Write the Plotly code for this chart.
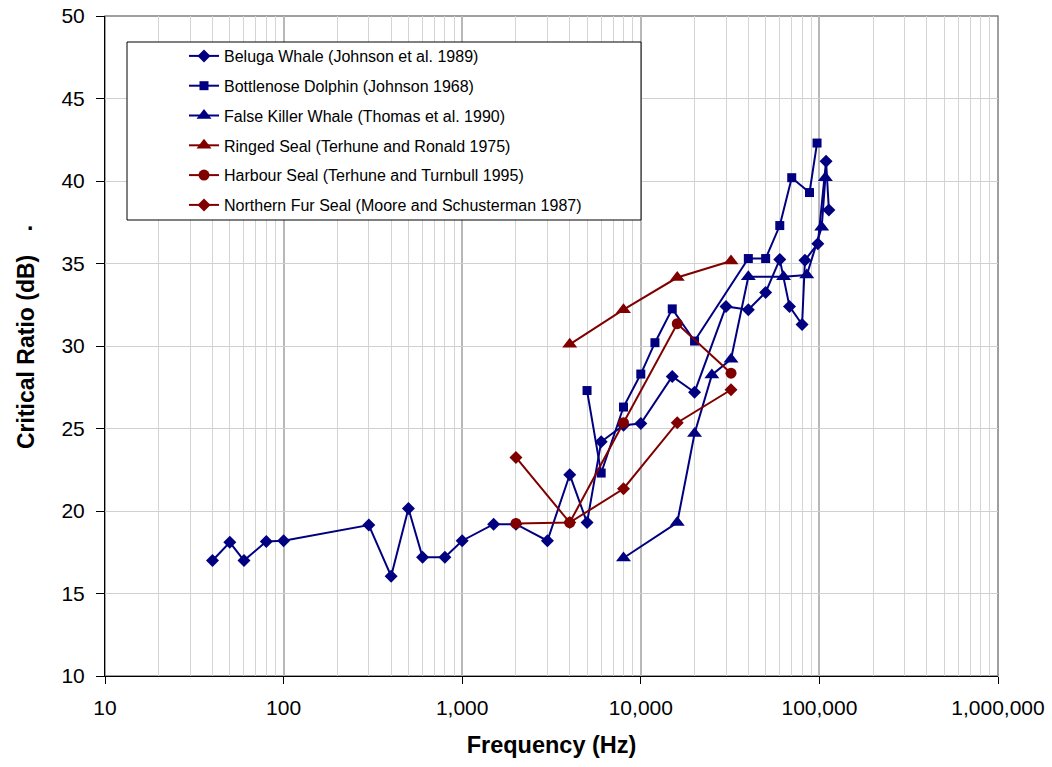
import plotly.graph_objects as go

# ---------------- data ----------------
beluga_f = [40, 50, 60, 80, 100, 300, 400, 500, 600, 800, 1000, 1500, 2000, 3000, 4000, 5000, 6000,
            8000, 10000, 15000, 20000, 30000, 40000, 50000, 60000, 68000, 80000, 83000, 98000, 109000, 113000]
beluga_cr = [17.0, 18.1, 17.0, 18.15, 18.2, 19.15, 16.05, 20.15, 17.2, 17.2, 18.2, 19.2, 19.2, 18.2, 22.2, 19.3, 24.2,
             25.2, 25.3, 28.15, 27.2, 32.4, 32.2, 33.25, 35.25, 32.4, 31.3, 35.2, 36.2, 41.2, 38.25]

dolphin_f = [5000, 6000, 8000, 10000, 12000, 15000, 20000, 40000, 50000, 60000, 70000, 88000, 97000]
dolphin_cr = [27.3, 22.3, 26.3, 28.3, 30.2, 32.25, 30.3, 35.3, 35.3, 37.3, 40.2, 39.3, 42.3]

fkw_f = [8000, 16000, 20000, 25000, 32000, 40000, 63000, 85000, 103000, 108000]
fkw_cr = [17.15, 19.3, 24.7, 28.25, 29.2, 34.2, 34.2, 34.3, 37.2, 40.2]

ringed_f = [4000, 8000, 16000, 32000]
ringed_cr = [30.1, 32.2, 34.15, 35.15]

harbour_f = [2000, 4000, 8000, 16000, 32000]
harbour_cr = [19.25, 19.3, 25.35, 31.35, 28.35]

furseal_f = [2000, 4000, 8000, 16000, 32000]
furseal_cr = [23.25, 19.3, 21.35, 25.35, 27.35]

x_tickvals = [10, 100, 1000, 10000, 100000, 1000000]
x_ticktext = ["10", "100", "1,000", "10,000", "100,000", "1,000,000"]
y_tickvals = [10, 15, 20, 25, 30, 35, 40, 45, 50]

NAVY = "#000080"
DRED = "#800000"
FONT = "Arial, 'Liberation Sans', sans-serif"

series = [
    ("Beluga Whale (Johnson et al. 1989)", beluga_f, beluga_cr, NAVY, "diamond", 10),
    ("Bottlenose Dolphin (Johnson 1968)", dolphin_f, dolphin_cr, NAVY, "square", 9),
    ("False Killer Whale (Thomas et al. 1990)", fkw_f, fkw_cr, NAVY, "triangle-up", 13),
    ("Ringed Seal (Terhune and Ronald 1975)", ringed_f, ringed_cr, DRED, "triangle-up", 13),
    ("Harbour Seal (Terhune and Turnbull 1995)", harbour_f, harbour_cr, DRED, "circle", 11),
    ("Northern Fur Seal (Moore and Schusterman 1987)", furseal_f, furseal_cr, DRED, "diamond", 10),
]

fig = go.Figure()
for i, (name, xs, ys, col, sym, sz) in enumerate(series):
    fig.add_trace(go.Scatter(
        x=xs, y=ys, name=name, mode="lines+markers",
        line=dict(color=col, width=2),
        marker=dict(color=col, symbol=sym, size=sz, line=dict(width=0)),
        legendgroup=f"g{i}",
    ))

minor_vals = [d * k for d in [10, 100, 1000, 10000, 100000] for k in range(2, 10)]

fig.update_layout(
    width=1052, height=767,
    margin=dict(l=105, r=54, t=16, b=91, autoexpand=False),
    paper_bgcolor="white", plot_bgcolor="white",
    font=dict(family=FONT, color="black"),
    showlegend=True,
    legend=dict(
        x=(184 - 105) / 893, y=(676 - 39) / 660, xanchor="left", yanchor="top",
        bgcolor="rgba(0,0,0,0)", borderwidth=0,
        font=dict(family=FONT, size=16, color="black"),
        traceorder="grouped", tracegroupgap=6,
    ),
    xaxis=dict(
        type="log", range=[1, 6], automargin=False,
        tickmode="array", tickvals=x_tickvals, ticktext=x_ticktext,
        tickfont=dict(family=FONT, size=21, color="black"),
        ticks="outside", ticklen=7, tickcolor="black", tickwidth=1,
        ticklabelstandoff=6,
        showline=True, linecolor="black", linewidth=1,
        showgrid=True, gridcolor="#b8b8b8", gridwidth=1.5,
        minor=dict(tickmode="array", tickvals=minor_vals, showgrid=True,
                   gridcolor="#d4d4d4", gridwidth=1, ticks=""),
        zeroline=False,
        title=dict(text="<b>Frequency (Hz)</b>", font=dict(family=FONT, size=23.5, color="black"),
                   standoff=18),
    ),
    yaxis=dict(
        range=[10, 50], automargin=False, tickmode="array", tickvals=y_tickvals,
        tickfont=dict(family=FONT, size=21, color="black"),
        ticks="outside", ticklen=8, tickcolor="black", tickwidth=1,
        ticklabelstandoff=7,
        showline=True, linecolor="black", linewidth=1,
        showgrid=True, gridcolor="#d0d0d0", gridwidth=1,
        zeroline=False,
    ),
    shapes=[
        # plot frame (top/right in grey)
        dict(type="rect", xref="paper", yref="paper", x0=0, x1=1, y0=0, y1=1,
             line=dict(color="#808080", width=1.5), fillcolor="rgba(0,0,0,0)", layer="below"),
        # legend box
        dict(type="rect", xref="paper", yref="paper",
             x0=(127 - 105) / 893, x1=(641 - 105) / 893,
             y0=(676 - 220) / 660, y1=(676 - 42) / 660,
             line=dict(color="black", width=1), fillcolor="white", layer="above"),
    ],
    annotations=[
        dict(text="<b>Critical Ratio (dB)</b>", textangle=-90, xref="paper", yref="paper",
             x=(26.5 - 105) / 893, y=(676 - 352.5) / 660, xanchor="center", yanchor="middle",
             showarrow=False, font=dict(family=FONT, size=23, color="black")),
        dict(text="<b>.</b>", xref="paper", yref="paper",
             x=(30 - 105) / 893, y=(676 - 222) / 660, xanchor="center", yanchor="middle",
             showarrow=False, font=dict(family=FONT, size=23, color="black")),
    ],
)

fig.write_html("out.html")
